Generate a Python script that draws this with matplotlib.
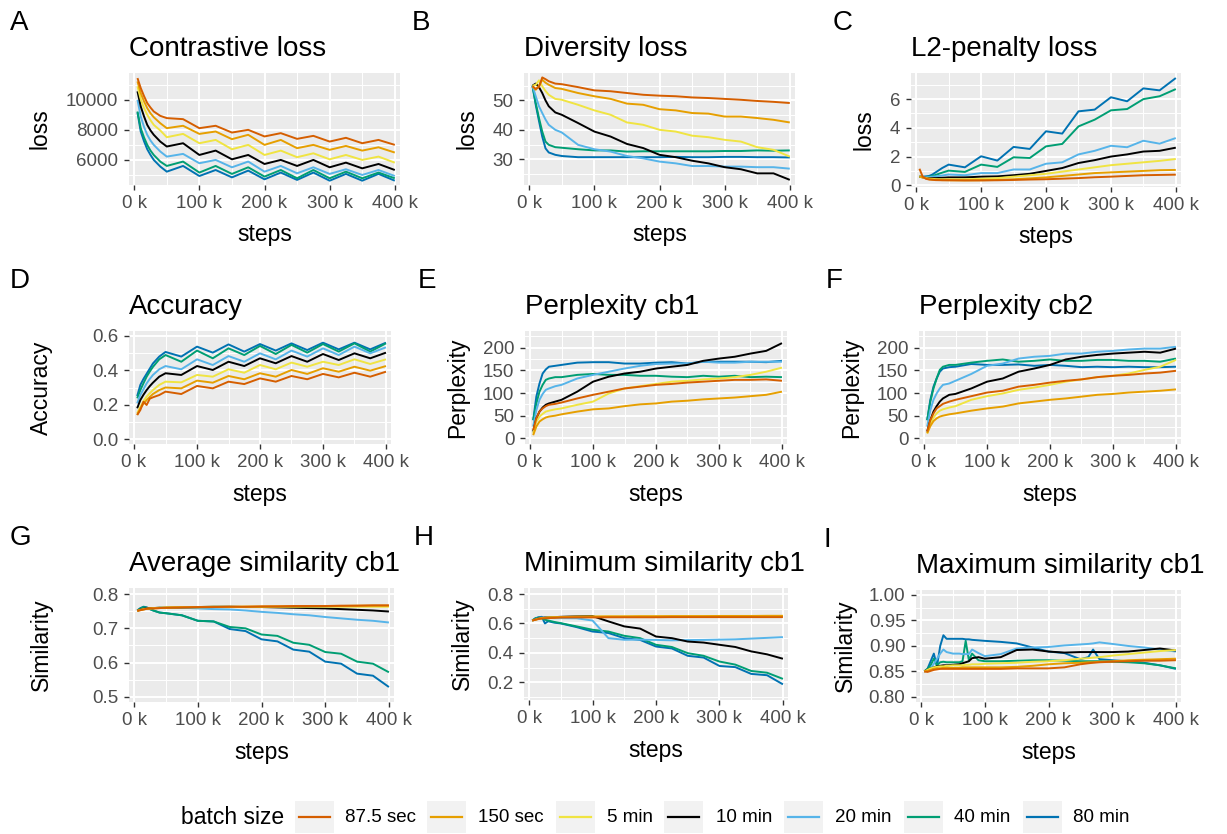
import matplotlib
matplotlib.use("Agg")
import matplotlib.pyplot as plt
from matplotlib.ticker import FixedLocator
from matplotlib.lines import Line2D
from matplotlib.patches import Rectangle

plt.rcParams['font.family'] = ['Liberation Sans', 'DejaVu Sans']

W, H = 1227, 834

# ---------------- data ----------------
batch_sizes = ["87.5 sec", "150 sec", "5 min", "10 min", "20 min", "40 min", "80 min"]
colors = ["#D55E00", "#E69F00", "#F0E442", "#000000", "#56B4E9", "#009E73", "#0072B2"]

# training steps (thousands)
steps_k = [5, 10, 15, 20, 25, 30, 40, 50, 75, 100, 125, 150, 175, 200, 225, 250, 275, 300, 325, 350, 375, 400]
steps_k_max = [5, 10, 15, 20, 25, 30, 35, 40, 50, 60, 65, 70, 75, 80, 90, 100, 125, 150, 175, 200, 225,
               250, 262.5, 270, 280, 300, 325, 350, 375, 400]

# series order follows batch_sizes
contrastive_loss = [
    [11440, 10780, 10250, 9780, 9480, 9220, 8930, 8780, 8710, 8110, 8270, 7820, 8000, 7560, 7780, 7400, 7600, 7220, 7470, 7110, 7330, 7000],
    [11220, 10440, 9900, 9440, 9100, 8840, 8440, 8110, 8270, 7730, 7890, 7380, 7670, 7000, 7330, 6780, 7000, 6670, 6930, 6620, 6840, 6490],
    [10890, 10040, 9450, 9000, 8640, 8330, 7960, 7510, 7730, 7110, 7330, 6710, 7000, 6330, 6620, 6180, 6440, 6040, 6330, 6000, 6220, 5820],
    [10560, 9560, 8900, 8330, 7960, 7670, 7220, 6890, 7110, 6330, 6620, 6040, 6330, 5730, 6000, 5600, 6000, 5510, 5820, 5440, 5730, 5330],
    [10000, 8890, 8200, 7670, 7290, 7000, 6560, 6220, 6400, 5780, 6000, 5510, 5890, 5220, 5600, 5110, 5510, 5070, 5380, 5000, 5330, 4930],
    [9220, 8110, 7500, 7000, 6620, 6330, 5890, 5600, 5890, 5160, 5600, 5070, 5510, 4890, 5330, 4780, 5330, 4780, 5220, 4780, 5160, 4780],
    [9160, 7890, 7250, 6710, 6330, 6000, 5560, 5220, 5600, 4930, 5330, 4840, 5290, 4710, 5160, 4670, 5160, 4620, 5070, 4620, 5070, 4620],
]
diversity_loss = [
    [54.8, 53.9, 54.5, 57.8, 57.2, 56.5, 55.7, 55.5, 54.5, 53.4, 53.1, 52.5, 51.9, 51.6, 51.4, 51.0, 50.8, 50.5, 50.2, 49.8, 49.5, 49.1],
    [54.8, 53.6, 55.0, 57.0, 56.0, 55.3, 54.2, 53.9, 52.5, 51.4, 50.5, 48.9, 48.5, 47.0, 46.6, 45.7, 45.5, 44.5, 44.5, 44.0, 43.4, 42.5],
    [55.0, 55.3, 56.8, 54.8, 53.2, 51.9, 50.5, 50.2, 48.5, 46.6, 45.1, 42.5, 41.7, 40.0, 39.4, 38.0, 37.5, 36.6, 36.0, 34.1, 33.2, 30.9],
    [55.0, 55.7, 54.5, 52.5, 50.0, 48.0, 45.9, 45.1, 42.3, 39.4, 37.7, 35.2, 33.8, 31.5, 30.7, 29.5, 28.6, 27.3, 26.6, 25.2, 25.2, 23.0],
    [55.0, 51.4, 48.0, 45.7, 43.5, 41.7, 40.0, 39.1, 34.9, 33.4, 32.6, 31.1, 30.3, 29.2, 28.6, 27.7, 27.7, 27.5, 27.5, 27.3, 27.3, 26.8],
    [55.0, 49.1, 44.0, 39.4, 36.0, 34.9, 34.1, 33.9, 33.4, 33.0, 33.0, 32.6, 32.7, 32.7, 32.7, 32.7, 32.7, 32.8, 32.8, 33.0, 32.9, 33.0],
    [55.0, 48.5, 43.0, 37.7, 33.7, 32.3, 31.5, 31.1, 30.7, 30.7, 30.7, 30.7, 30.7, 30.7, 30.8, 30.7, 30.7, 30.8, 30.8, 30.7, 30.7, 30.6],
]
l2_penalty_loss = [
    [1.15, 0.60, 0.45, 0.40, 0.38, 0.36, 0.35, 0.35, 0.34, 0.34, 0.35, 0.37, 0.40, 0.42, 0.46, 0.50, 0.56, 0.60, 0.65, 0.70, 0.72, 0.74],
    [0.62, 0.55, 0.48, 0.42, 0.40, 0.38, 0.36, 0.35, 0.34, 0.35, 0.37, 0.42, 0.48, 0.55, 0.65, 0.75, 0.85, 0.90, 0.95, 1.00, 1.05, 1.07],
    [0.60, 0.55, 0.50, 0.47, 0.45, 0.43, 0.42, 0.42, 0.42, 0.45, 0.50, 0.60, 0.70, 0.80, 0.95, 1.10, 1.25, 1.40, 1.50, 1.60, 1.70, 1.83],
    [0.60, 0.55, 0.52, 0.50, 0.50, 0.50, 0.52, 0.55, 0.55, 0.60, 0.62, 0.70, 0.80, 1.00, 1.20, 1.55, 1.75, 2.00, 2.15, 2.35, 2.40, 2.62],
    [0.60, 0.58, 0.57, 0.57, 0.60, 0.62, 0.68, 0.75, 0.70, 0.85, 0.85, 1.10, 1.10, 1.50, 1.60, 2.15, 2.40, 2.75, 2.65, 3.10, 2.90, 3.29],
    [0.60, 0.58, 0.58, 0.60, 0.65, 0.72, 0.88, 1.02, 0.93, 1.44, 1.28, 1.95, 1.90, 2.71, 2.88, 4.10, 4.57, 5.22, 5.31, 6.00, 6.20, 6.70],
    [0.60, 0.60, 0.62, 0.65, 0.75, 0.90, 1.20, 1.44, 1.25, 2.02, 1.72, 2.67, 2.53, 3.76, 3.60, 5.15, 5.27, 6.13, 5.85, 6.75, 6.61, 7.47],
]
accuracy = [
    [0.140, 0.169, 0.217, 0.198, 0.235, 0.243, 0.256, 0.276, 0.262, 0.309, 0.295, 0.334, 0.320, 0.353, 0.334, 0.367, 0.348, 0.379, 0.359, 0.386, 0.363, 0.392],
    [0.140, 0.179, 0.205, 0.227, 0.245, 0.262, 0.285, 0.300, 0.295, 0.340, 0.328, 0.367, 0.348, 0.383, 0.363, 0.402, 0.379, 0.412, 0.392, 0.421, 0.398, 0.425],
    [0.150, 0.188, 0.220, 0.247, 0.267, 0.285, 0.315, 0.334, 0.330, 0.373, 0.363, 0.406, 0.386, 0.431, 0.406, 0.445, 0.421, 0.450, 0.431, 0.464, 0.437, 0.464],
    [0.179, 0.227, 0.258, 0.285, 0.308, 0.328, 0.363, 0.383, 0.373, 0.425, 0.402, 0.450, 0.425, 0.470, 0.441, 0.483, 0.450, 0.495, 0.460, 0.499, 0.470, 0.503],
    [0.208, 0.256, 0.290, 0.324, 0.350, 0.373, 0.406, 0.425, 0.406, 0.464, 0.431, 0.483, 0.450, 0.499, 0.464, 0.515, 0.480, 0.528, 0.489, 0.538, 0.499, 0.534],
    [0.237, 0.285, 0.325, 0.363, 0.393, 0.420, 0.464, 0.489, 0.450, 0.515, 0.470, 0.528, 0.489, 0.542, 0.495, 0.548, 0.503, 0.553, 0.509, 0.557, 0.509, 0.557],
    [0.250, 0.315, 0.350, 0.380, 0.410, 0.440, 0.480, 0.507, 0.480, 0.538, 0.503, 0.551, 0.509, 0.553, 0.515, 0.557, 0.518, 0.561, 0.522, 0.561, 0.522, 0.561],
]
perplexity_cb1 = [
    [18, 44, 59, 66, 71, 74, 76, 79, 88, 96, 103, 110, 114, 118, 120, 123, 125, 127, 129, 129, 130, 127],
    [7, 26, 37, 42, 46, 48, 50, 53, 59, 64, 66, 71, 75, 77, 81, 83, 86, 88, 90, 93, 96, 103],
    [11, 37, 48, 54, 59, 61, 64, 66, 74, 81, 99, 110, 115, 120, 125, 127, 130, 132, 135, 140, 147, 156],
    [15, 44, 59, 68, 74, 77, 81, 85, 103, 125, 136, 143, 147, 154, 158, 162, 171, 176, 180, 187, 193, 210],
    [26, 62, 85, 98, 107, 110, 115, 118, 132, 140, 147, 154, 160, 164, 165, 165, 169, 167, 167, 169, 169, 169],
    [40, 77, 103, 118, 129, 132, 135, 135, 140, 142, 140, 140, 138, 138, 136, 135, 138, 136, 138, 135, 136, 135],
    [40, 92, 121, 143, 152, 158, 160, 162, 167, 168, 168, 165, 165, 167, 168, 165, 169, 169, 169, 169, 168, 171],
]
perplexity_cb2 = [
    [15, 40, 55, 66, 71, 76, 81, 85, 93, 101, 105, 114, 118, 123, 127, 130, 135, 138, 140, 143, 145, 149],
    [11, 27, 38, 44, 48, 50, 53, 55, 61, 66, 70, 77, 81, 85, 88, 92, 96, 98, 101, 103, 105, 108],
    [11, 33, 46, 55, 61, 64, 68, 71, 85, 93, 99, 107, 112, 118, 125, 130, 135, 138, 143, 151, 158, 173],
    [15, 40, 59, 71, 81, 88, 96, 98, 110, 125, 132, 147, 154, 162, 174, 180, 184, 187, 189, 191, 189, 198],
    [26, 62, 85, 99, 110, 118, 121, 127, 142, 160, 165, 176, 180, 182, 187, 187, 191, 193, 196, 198, 198, 202],
    [40, 81, 110, 132, 151, 158, 162, 162, 167, 171, 174, 169, 171, 174, 171, 171, 173, 173, 171, 171, 169, 176],
    [40, 85, 114, 132, 147, 154, 157, 158, 164, 162, 162, 163, 160, 162, 160, 157, 158, 157, 158, 157, 157, 158],
]
avg_similarity_cb1 = [
    [0.751, 0.753, 0.755, 0.757, 0.758, 0.758, 0.759, 0.760, 0.761, 0.762, 0.762, 0.763, 0.763, 0.764, 0.764, 0.765, 0.765, 0.765, 0.766, 0.766, 0.767, 0.767],
    [0.751, 0.753, 0.755, 0.757, 0.758, 0.758, 0.759, 0.760, 0.761, 0.761, 0.762, 0.762, 0.763, 0.763, 0.764, 0.764, 0.765, 0.765, 0.765, 0.766, 0.766, 0.766],
    [0.751, 0.754, 0.756, 0.757, 0.758, 0.759, 0.760, 0.761, 0.762, 0.762, 0.763, 0.763, 0.763, 0.763, 0.763, 0.763, 0.763, 0.763, 0.763, 0.763, 0.763, 0.763],
    [0.751, 0.755, 0.757, 0.758, 0.759, 0.759, 0.760, 0.760, 0.761, 0.762, 0.763, 0.763, 0.762, 0.762, 0.761, 0.760, 0.759, 0.758, 0.756, 0.754, 0.752, 0.749],
    [0.751, 0.755, 0.757, 0.758, 0.759, 0.759, 0.760, 0.760, 0.760, 0.758, 0.756, 0.755, 0.752, 0.748, 0.745, 0.741, 0.738, 0.733, 0.729, 0.725, 0.722, 0.717],
    [0.752, 0.758, 0.762, 0.760, 0.756, 0.752, 0.746, 0.744, 0.738, 0.722, 0.720, 0.704, 0.700, 0.682, 0.678, 0.658, 0.652, 0.631, 0.626, 0.603, 0.597, 0.572],
    [0.752, 0.759, 0.763, 0.761, 0.756, 0.752, 0.746, 0.744, 0.738, 0.722, 0.720, 0.698, 0.692, 0.668, 0.662, 0.638, 0.632, 0.603, 0.597, 0.568, 0.562, 0.529],
]
min_similarity_cb1 = [
    [0.620, 0.625, 0.630, 0.633, 0.635, 0.636, 0.638, 0.640, 0.641, 0.641, 0.642, 0.642, 0.642, 0.642, 0.643, 0.643, 0.643, 0.643, 0.643, 0.643, 0.643, 0.643],
    [0.620, 0.626, 0.632, 0.636, 0.638, 0.640, 0.642, 0.644, 0.646, 0.647, 0.648, 0.648, 0.649, 0.649, 0.650, 0.650, 0.650, 0.651, 0.651, 0.651, 0.652, 0.652],
    [0.620, 0.626, 0.632, 0.636, 0.638, 0.640, 0.642, 0.643, 0.645, 0.646, 0.647, 0.647, 0.648, 0.648, 0.648, 0.648, 0.649, 0.649, 0.649, 0.649, 0.650, 0.650],
    [0.620, 0.628, 0.634, 0.638, 0.640, 0.641, 0.643, 0.645, 0.648, 0.650, 0.614, 0.580, 0.565, 0.511, 0.500, 0.477, 0.470, 0.455, 0.440, 0.410, 0.390, 0.360],
    [0.620, 0.630, 0.635, 0.640, 0.640, 0.638, 0.636, 0.636, 0.635, 0.620, 0.500, 0.489, 0.490, 0.488, 0.485, 0.487, 0.488, 0.490, 0.492, 0.497, 0.502, 0.507],
    [0.620, 0.635, 0.640, 0.635, 0.625, 0.620, 0.610, 0.602, 0.580, 0.557, 0.545, 0.516, 0.500, 0.455, 0.440, 0.398, 0.380, 0.341, 0.320, 0.277, 0.265, 0.223],
    [0.620, 0.635, 0.642, 0.645, 0.600, 0.615, 0.605, 0.600, 0.575, 0.545, 0.535, 0.500, 0.488, 0.443, 0.430, 0.380, 0.368, 0.311, 0.303, 0.257, 0.248, 0.186],
]
max_similarity_cb1 = [
    [0.850, 0.849, 0.851, 0.853, 0.854, 0.855, 0.855, 0.855, 0.855, 0.855, 0.855, 0.855, 0.855, 0.855, 0.855, 0.855, 0.855, 0.856, 0.856, 0.856, 0.858, 0.864, 0.866, 0.867, 0.868, 0.869, 0.870, 0.871, 0.871, 0.872],
    [0.850, 0.851, 0.853, 0.855, 0.856, 0.856, 0.857, 0.857, 0.857, 0.857, 0.858, 0.858, 0.858, 0.858, 0.858, 0.858, 0.858, 0.859, 0.861, 0.864, 0.866, 0.867, 0.868, 0.868, 0.869, 0.870, 0.872, 0.873, 0.874, 0.875],
    [0.850, 0.853, 0.856, 0.858, 0.859, 0.860, 0.860, 0.861, 0.862, 0.862, 0.862, 0.863, 0.863, 0.864, 0.864, 0.865, 0.866, 0.867, 0.869, 0.870, 0.872, 0.875, 0.876, 0.877, 0.878, 0.881, 0.884, 0.887, 0.890, 0.892],
    [0.850, 0.853, 0.856, 0.858, 0.860, 0.861, 0.862, 0.862, 0.863, 0.864, 0.866, 0.868, 0.870, 0.876, 0.878, 0.875, 0.878, 0.892, 0.893, 0.889, 0.887, 0.888, 0.888, 0.888, 0.888, 0.888, 0.889, 0.892, 0.895, 0.891],
    [0.850, 0.852, 0.856, 0.865, 0.875, 0.885, 0.893, 0.888, 0.885, 0.885, 0.884, 0.884, 0.884, 0.893, 0.886, 0.880, 0.884, 0.895, 0.897, 0.898, 0.901, 0.903, 0.904, 0.905, 0.907, 0.904, 0.900, 0.897, 0.893, 0.889],
    [0.850, 0.855, 0.862, 0.875, 0.862, 0.868, 0.869, 0.868, 0.868, 0.868, 0.870, 0.910, 0.872, 0.885, 0.872, 0.870, 0.870, 0.871, 0.872, 0.872, 0.871, 0.870, 0.870, 0.870, 0.870, 0.869, 0.868, 0.866, 0.862, 0.856],
    [0.850, 0.855, 0.870, 0.885, 0.860, 0.900, 0.921, 0.914, 0.914, 0.914, 0.914, 0.913, 0.913, 0.912, 0.911, 0.910, 0.908, 0.905, 0.897, 0.889, 0.886, 0.874, 0.878, 0.893, 0.874, 0.872, 0.870, 0.867, 0.862, 0.855],
]

x_tick_values = [0, 100, 200, 300, 400]
x_tick_labels = ["0 k", "100 k", "200 k", "300 k", "400 k"]

# ---------------- layout (pixels) ----------------
panels = [
    # tag, title, ylabel, data, x, (left, top, right, bottom), ylim, yticks, yticklabels, ylabel_x, tag_x
    ("A", "Contrastive loss", "loss", contrastive_loss, steps_k, (129, 73, 400, 185), (4333, 11778),
     [6000, 8000, 10000], ["6000", "8000", "10000"], 40, 10),
    ("B", "Diversity loss", "loss", diversity_loss, steps_k, (524, 73, 795, 185), (21.25, 59.3),
     [30, 40, 50], ["30", "40", "50"], 467, 412),
    ("C", "L2-penalty loss", "loss", l2_penalty_loss, steps_k, (911, 73, 1181, 187), (-0.12, 7.82),
     [0, 2, 4, 6], ["0", "2", "4", "6"], 864, 833),
    ("D", "Accuracy", "Accuracy", accuracy, steps_k, (129, 331, 391, 444), (-0.029, 0.629),
     [0, 0.2, 0.4, 0.6], ["0.0", "0.2", "0.4", "0.6"], 41, 10),
    ("E", "Perplexity cb1", "Perplexity", perplexity_cb1, steps_k, (525, 331, 787, 444), (-12.5, 236.8),
     [0, 50, 100, 150, 200], ["0", "50", "100", "150", "200"], 458, 418),
    ("F", "Perplexity cb2", "Perplexity", perplexity_cb2, steps_k, (919, 331, 1181, 444), (-12.5, 236.8),
     [0, 50, 100, 150, 200], ["0", "50", "100", "150", "200"], 852, 826),
    ("G", "Average similarity cb1", "Similarity", avg_similarity_cb1, steps_k, (129, 588, 394, 702), (0.4854, 0.8175),
     [0.5, 0.6, 0.7, 0.8], ["0.5", "0.6", "0.7", "0.8"], 41, 10),
    ("H", "Minimum similarity cb1", "Similarity", min_similarity_cb1, steps_k, (524, 588, 788, 700), (0.0795, 0.841),
     [0.2, 0.4, 0.6, 0.8], ["0.2", "0.4", "0.6", "0.8"], 462, 414),
    ("I", "Maximum similarity cb1", "Similarity", max_similarity_cb1, steps_k_max, (916, 590, 1181, 702), (0.79, 1.0098),
     [0.8, 0.85, 0.9, 0.95, 1.0], ["0.80", "0.85", "0.90", "0.95", "1.00"], 845, 823),
]

fig = plt.figure(figsize=(W / 100, H / 100), dpi=100)
fig.patch.set_facecolor("white")


def fx(px):
    return px / W


def fy(py):
    return 1 - py / H


for tag, title, ylabel, data, xs, (l, t, r, b), ylim, yt, ytl, ylx, tagx in panels:
    ax = fig.add_axes([fx(l), fy(b), (r - l) / W, (b - t) / H])
    ax.set_facecolor("#EBEBEB")
    for s in ax.spines.values():
        s.set_visible(False)
    ax.set_xlim(-8, 408)
    ax.set_ylim(*ylim)
    ax.set_xticks(x_tick_values)
    ax.set_xticklabels(x_tick_labels)
    ax.xaxis.set_minor_locator(FixedLocator([50, 150, 250, 350]))
    ax.set_yticks(yt)
    ax.set_yticklabels(ytl)
    d = yt[1] - yt[0]
    minors = [v + d / 2 for v in yt] + [yt[0] - d / 2]
    minors = [m for m in minors if ylim[0] < m < ylim[1]]
    ax.yaxis.set_minor_locator(FixedLocator(minors))
    ax.grid(which="major", color="white", lw=1.4)
    ax.grid(which="minor", color="white", lw=0.7)
    ax.set_axisbelow(True)
    ax.tick_params(which="major", length=3.6, width=1.0, color="#333333",
                   labelsize=13.5, labelcolor="#4D4D4D")
    ax.tick_params(axis="x", which="major", pad=3.5)
    ax.tick_params(axis="y", which="major", pad=4)
    ax.tick_params(which="minor", length=0)

    for i in reversed(range(len(batch_sizes))):
        ax.plot(xs, data[i], color=colors[i], lw=1.4, solid_joinstyle="round",
                solid_capstyle="butt", clip_on=True)

    # titles & labels
    fig.text(fx(l), fy(t - 17), title, ha="left", va="baseline", fontsize=20)
    fig.text(fx(tagx), fy(t - 43), tag, ha="left", va="baseline", fontsize=20)
    fig.text(fx(ylx), fy((t + b) / 2), ylabel, rotation=90, ha="center", va="center", fontsize=16.5)
    fig.text(fx((l + r) / 2), fy(b + 50), "steps", ha="center", va="center", fontsize=16.5)

# ---------------- legend ----------------
legend_key_x = [295, 427, 556, 664, 784, 904, 1023]
legend_text_x = [345, 478, 607, 716, 835, 954, 1073]
key_w, key_top, key_bot = 39, 801, 833
fig.text(fx(181), fy(818), "batch size", ha="left", va="center", fontsize=16.5)
for i, lab in enumerate(batch_sizes):
    kx = legend_key_x[i]
    fig.patches.append(Rectangle((fx(kx), fy(key_bot)), key_w / W, (key_bot - key_top) / H,
                                 transform=fig.transFigure, facecolor="#F2F2F2", edgecolor="none"))
    yc = (key_top + key_bot) / 2
    fig.lines.append(Line2D([fx(kx + 4), fx(kx + key_w - 4)], [fy(yc), fy(yc)],
                            transform=fig.transFigure, color=colors[i], lw=1.6))
    fig.text(fx(legend_text_x[i]), fy(818), lab, ha="left", va="center", fontsize=13.5)

fig.savefig("out.png", dpi=100)
